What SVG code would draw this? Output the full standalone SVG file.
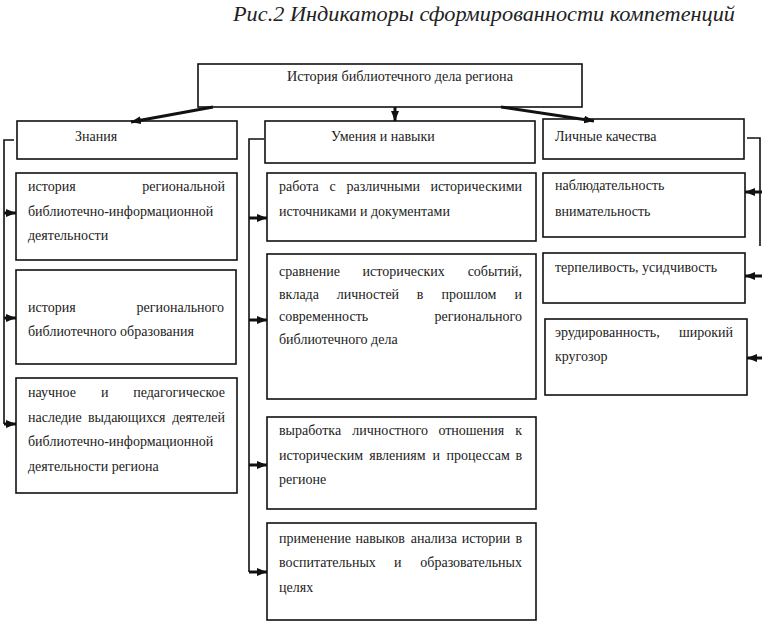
<svg xmlns="http://www.w3.org/2000/svg" width="763" height="629" viewBox="0 0 763 629">
<style>
.b{fill:#fff;stroke:#111;stroke-width:1.6}
.t{font-family:"Liberation Serif","Times New Roman",serif;font-size:14px;fill:#222}
.e{text-anchor:end}
.c{stroke:#111;stroke-width:1.6;fill:none}
.a{stroke:#111;stroke-width:3;fill:none;marker-end:url(#ah)}
.ttl{font-family:"Liberation Serif","Times New Roman",serif;font-style:italic;font-size:20px;fill:#222}
</style>
<defs>
<marker id="ah" markerUnits="userSpaceOnUse" viewBox="0 0 10 8" refX="10" refY="4" markerWidth="10" markerHeight="8" orient="auto">
<path d="M0,0 L10,4 L0,8 z" fill="#111"/>
</marker>
</defs>
<rect width="763" height="629" fill="#fff"/>
<text class="ttl" x="233" y="21" textLength="502" lengthAdjust="spacingAndGlyphs">Рис.2 Индикаторы сформированности компетенций</text>

<g id="root">
<rect class="b" x="198" y="64" width="384" height="43"/>
<text class="t" x="287" y="81" textLength="226" lengthAdjust="spacingAndGlyphs">История библиотечного дела региона</text>
</g>
<g id="h-znaniya">
<rect class="b" x="17" y="121" width="220" height="38"/>
<text class="t" x="75" y="141">Знания</text>
</g>
<g id="h-umeniya">
<rect class="b" x="265" y="121" width="270" height="42"/>
<text class="t" x="331" y="141">Умения и навыки</text>
</g>
<g id="h-lichnye">
<rect class="b" x="543" y="119" width="201" height="40"/>
<text class="t" x="555" y="141">Личные качества</text>
</g>

<g id="k1">
<rect class="b" x="16" y="173" width="221" height="87"/>
<text class="t" x="28" y="191">история</text><text class="t e" x="225" y="191">региональной</text>
<text class="t" x="28" y="216">библиотечно-информационной</text>
<text class="t" x="28" y="240">деятельности</text>
</g>
<g id="k2">
<rect class="b" x="16" y="270" width="220" height="94"/>
<text class="t" x="28" y="312">история</text><text class="t e" x="224" y="312">регионального</text>
<text class="t" x="28" y="336">библиотечного образования</text>
</g>
<g id="k3">
<rect class="b" x="16" y="378" width="221" height="115"/>
<text class="t" x="28" y="397">научное</text><text class="t" x="101" y="397">и</text><text class="t e" x="225" y="397">педагогическое</text>
<text class="t" x="28" y="422">наследие</text><text class="t" x="88" y="422">выдающихся</text><text class="t e" x="225" y="422">деятелей</text>
<text class="t" x="28" y="446">библиотечно-информационной</text>
<text class="t" x="28" y="471">деятельности региона</text>
</g>

<g id="s1">
<rect class="b" x="267" y="173" width="269" height="68"/>
<text class="t" x="279" y="191">работа</text><text class="t" x="329.5" y="191">с</text><text class="t" x="346.5" y="191">различными</text><text class="t e" x="522" y="191">историческими</text>
<text class="t" x="279" y="216">источниками и документами</text>
</g>
<g id="s2">
<rect class="b" x="267" y="254" width="269" height="145"/>
<text class="t" x="279" y="276">сравнение</text><text class="t" x="362.5" y="276">исторических</text><text class="t e" x="522" y="276">событий,</text>
<text class="t" x="279" y="299">вклада</text><text class="t" x="336.7" y="299">личностей</text><text class="t" x="416.7" y="299">в</text><text class="t" x="441.4" y="299">прошлом</text><text class="t e" x="522" y="299">и</text>
<text class="t" x="279" y="321">современность</text><text class="t e" x="522" y="321">регионального</text>
<text class="t" x="279" y="344">библиотечного дела</text>
</g>
<g id="s3">
<rect class="b" x="267" y="417" width="269" height="92"/>
<text class="t" x="279" y="435">выработка</text><text class="t" x="352.3" y="435">личностного</text><text class="t" x="438.4" y="435">отношения</text><text class="t e" x="522" y="435">к</text>
<text class="t" x="279" y="460">историческим</text><text class="t" x="369.2" y="460">явлениям</text><text class="t" x="432.6" y="460">и</text><text class="t" x="446.6" y="460">процессам</text><text class="t e" x="522" y="460">в</text>
<text class="t" x="279" y="484">регионе</text>
</g>
<g id="s4">
<rect class="b" x="267" y="523" width="269" height="97"/>
<text class="t" x="279" y="543">применение</text><text class="t" x="355.5" y="543">навыков</text><text class="t" x="410.8" y="543">анализа</text><text class="t" x="461.7" y="543">истории</text><text class="t e" x="522" y="543">в</text>
<text class="t" x="279" y="567">воспитательных</text><text class="t" x="394.1" y="567">и</text><text class="t e" x="522" y="567">образовательных</text>
<text class="t" x="279" y="592">целях</text>
</g>

<g id="q1">
<rect class="b" x="543" y="173" width="202" height="64"/>
<text class="t" x="555" y="190">наблюдательность</text>
<text class="t" x="555" y="216">внимательность</text>
</g>
<g id="q2">
<rect class="b" x="543" y="253" width="202" height="50"/>
<text class="t" x="555" y="272">терпеливость, усидчивость</text>
</g>
<g id="q3">
<rect class="b" x="545" y="319" width="202" height="76"/>
<text class="t" x="555" y="337">эрудированность,</text><text class="t e" x="733" y="337">широкий</text>
<text class="t" x="555" y="361">кругозор</text>
</g>

<g id="connectors">
<line class="a" x1="213" y1="107" x2="131" y2="122"/>
<line class="a" x1="395" y1="107" x2="395" y2="121"/>
<line class="a" x1="501" y1="107" x2="594" y2="121"/>
<polyline class="c" points="14,140 4,140 4,424"/>
<line class="a" x1="4" y1="213" x2="16" y2="213"/>
<line class="a" x1="4" y1="318" x2="16" y2="318"/>
<line class="a" x1="4" y1="424" x2="16" y2="424"/>
<polyline class="c" points="264,139 249,139 249,572"/>
<line class="a" x1="249" y1="218" x2="267" y2="218"/>
<line class="a" x1="249" y1="320" x2="267" y2="320"/>
<line class="a" x1="249" y1="465" x2="267" y2="465"/>
<line class="a" x1="249" y1="572" x2="267" y2="572"/>
<polyline class="c" points="747,138 760,138 760,246"/>
<line class="a" x1="762" y1="192" x2="745" y2="192"/>
<line class="a" x1="762" y1="276" x2="745" y2="276"/>
<line class="a" x1="762" y1="358" x2="747" y2="358"/>
</g>
</svg>
